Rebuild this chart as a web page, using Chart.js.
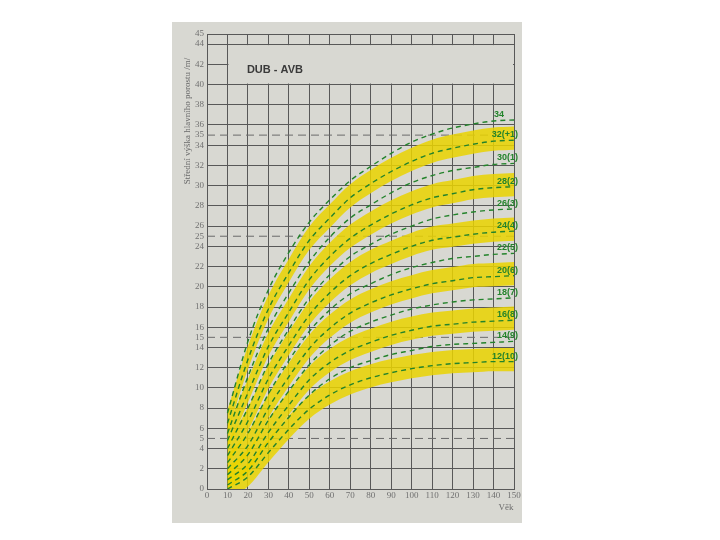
<!DOCTYPE html>
<html>
<head>
<meta charset="utf-8">
<script src="https://cdn.jsdelivr.net/npm/chart.js@4.4.0/dist/chart.umd.min.js"></script>
<style>
html, body { margin: 0; padding: 0; background: #fff; }
#obal { width: 720px; height: 540px; }
</style>
</head>
<body>
<div id="obal"><canvas id="graf"></canvas></div>
<script>
// vek porostu
const veky = [10, 20, 30, 40, 50, 60, 70, 80, 90, 100, 110, 120, 130, 140, 150];

// stredni vyska (m) pro jednotlive krivky
const h34 = [7.5, 14.6, 19.7, 23.4, 26.4, 28.6, 30.5, 31.9, 33.2, 34.3, 35.1, 35.7, 36.1, 36.4, 36.5];
const h32 = [6.5, 12.8, 17.8, 21.4, 24.6, 26.8, 28.8, 30.2, 31.4, 32.4, 33.2, 33.7, 34.1, 34.4, 34.5];
const h30 = [5.5, 11.1, 15.9, 19.4, 22.5, 24.9, 26.8, 28.1, 29.3, 30.3, 31.0, 31.5, 31.8, 32.1, 32.2];
const h28 = [4.8, 9.5, 14.1, 17.5, 20.7, 23.0, 24.8, 26.1, 27.2, 28.1, 28.8, 29.2, 29.6, 29.8, 29.9];
const h26 = [4.0, 8.0, 12.4, 15.8, 18.9, 21.2, 23.0, 24.2, 25.2, 26.0, 26.7, 27.1, 27.4, 27.6, 27.7];
const h24 = [3.3, 6.7, 10.9, 14.2, 17.2, 19.4, 21.1, 22.3, 23.2, 24.0, 24.6, 24.9, 25.2, 25.4, 25.5];
const h22 = [2.6, 5.5, 9.4, 12.7, 15.6, 17.7, 19.3, 20.3, 21.2, 21.9, 22.4, 22.8, 23.0, 23.2, 23.3];
const h20 = [2.0, 4.3, 8.0, 11.1, 13.9, 15.9, 17.4, 18.4, 19.2, 19.8, 20.3, 20.6, 20.9, 21.0, 21.1];
const h18 = [1.4, 3.4, 6.8, 9.7, 12.3, 14.2, 15.6, 16.5, 17.2, 17.8, 18.2, 18.5, 18.7, 18.8, 18.9];
const h16 = [0.9, 2.5, 5.6, 8.3, 10.8, 12.5, 13.7, 14.5, 15.2, 15.7, 16.1, 16.3, 16.5, 16.6, 16.7];
const h14 = [0.4, 1.8, 4.6, 7.1, 9.3, 10.9, 12.0, 12.7, 13.3, 13.7, 14.1, 14.3, 14.4, 14.5, 14.6];
const h12 = [0.0, 1.2, 3.6, 5.9, 7.9, 9.3, 10.3, 11.0, 11.5, 11.9, 12.2, 12.4, 12.5, 12.6, 12.6];

const krivky = [h34, h32, h30, h28, h26, h24, h22, h20, h18, h16, h14, h12];
const popisky = ['34', '32(+1)', '30(1)', '28(2)', '26(3)', '24(4)', '22(5)', '20(6)', '18(7)', '16(8)', '14(9)', '12(10)'];
// krivky se zlutym pasem
const pasy = [h32, h28, h24, h20, h16, h12];

const yTicks = [0, 2, 4, 5, 6, 8, 10, 12, 14, 15, 16, 18, 20, 22, 24, 25, 26, 28, 30, 32, 34, 35, 36, 38, 40, 42, 44, 45];
const carkovane = [5, 15, 25, 35];

const PAPIR = '#d8d8d2';
const MRIZKA = '#585858';
const ZELENA = '#23832b';
const pasNahoru = 1.35;
const pasDolu = 0.95;

function body(h) {
    return veky.map((a, i) => ({x: a, y: h[i]}));
}

let datasets = [];
carkovane.forEach(v => {
    datasets.push({data: [{x: 0, y: v}, {x: 150, y: v}], borderColor: '#6a6a6a', borderWidth: 1,
        borderDash: [8, 5], pointRadius: 0, fill: false, order: 3});
});
pasy.forEach(h => {
    datasets.push({data: veky.map((a, i) => ({x: a, y: h[i] + pasNahoru})), borderColor: 'transparent',
        borderWidth: 0, pointRadius: 0, fill: '+1', backgroundColor: 'rgba(234,212,0,0.85)',
        cubicInterpolationMode: 'monotone', order: 2});
    datasets.push({data: veky.map((a, i) => ({x: a, y: h[i] - pasDolu})), borderColor: 'transparent',
        borderWidth: 0, pointRadius: 0, fill: false, cubicInterpolationMode: 'monotone', order: 2});
});
krivky.forEach(h => {
    datasets.push({data: body(h), borderColor: ZELENA, borderWidth: 1.4, borderDash: [5, 4],
        pointRadius: 0, fill: false, cubicInterpolationMode: 'monotone', order: 1});
});

const papir = {
    id: 'papir',
    beforeDraw(chart) {
        const c = chart.ctx;
        c.save();
        c.fillStyle = PAPIR;
        c.fillRect(172, 22, 350, 501);
        c.restore();
    },
    beforeDatasetsDraw(chart) {
        const c = chart.ctx, x = chart.scales.x, y = chart.scales.y;
        c.save();
        // policko s nazvem
        const l = x.getPixelForValue(10) + 1, r = x.getPixelForValue(150) - 1;
        const t = y.getPixelForValue(44) + 1, b = y.getPixelForValue(40) - 1;
        c.fillStyle = PAPIR;
        c.fillRect(l, t, r - l, b - t);
        c.fillStyle = '#3a3a3a';
        c.font = 'bold 11px "Liberation Sans"';
        c.textBaseline = 'middle';
        c.fillText('DUB - AVB', x.getPixelForValue(19.5), y.getPixelForValue(41.4));
        // popisy os
        c.fillStyle = '#6b6b6b';
        c.font = '9px "Liberation Serif"';
        c.textAlign = 'center';
        c.fillText('Věk', 506, 508);
        c.translate(188, 121);
        c.rotate(-Math.PI / 2);
        c.fillText('Střední výška hlavního porostu /m/', 0, 0);
        c.restore();
    },
    afterDraw(chart) {
        const c = chart.ctx, x = chart.scales.x, y = chart.scales.y;
        c.save();
        c.fillStyle = ZELENA;
        c.font = 'bold 9px "Liberation Sans"';
        c.textAlign = 'right';
        c.textBaseline = 'bottom';
        krivky.forEach((h, i) => {
            let px = x.getPixelForValue(150) + 4;
            if (popisky[i].indexOf('(') < 0) px -= 14;
            c.fillText(popisky[i], px, y.getPixelForValue(h[h.length - 1]) - 1);
        });
        c.restore();
    }
};

Chart.defaults.font.family = '"Liberation Serif"';
Chart.defaults.font.size = 9;
Chart.defaults.color = '#707070';

const ctx = document.getElementById('graf').getContext('2d');
const graf = new Chart(ctx, {
    type: 'line',
    data: {datasets: datasets},
    options: {
        responsive: true,
        maintainAspectRatio: false,
        animation: false,
        layout: {padding: {left: 172, right: 206, top: 34, bottom: 17}},
        plugins: {legend: {display: false}, tooltip: {enabled: false}},
        scales: {
            x: {
                type: 'linear', min: 0, max: 150,
                afterFit: s => { s.height = 34; },
                grid: {color: MRIZKA, lineWidth: 1, drawTicks: false},
                border: {color: MRIZKA},
                ticks: {stepSize: 10, padding: 1, maxRotation: 0, autoSkip: false}
            },
            y: {
                type: 'linear', min: 0, max: 45,
                afterFit: s => { s.width = 35; },
                afterBuildTicks: s => { s.ticks = yTicks.map(v => ({value: v})); },
                grid: {
                    color: c => (c.tick && carkovane.includes(c.tick.value)) ? 'transparent' : MRIZKA,
                    lineWidth: 1, drawTicks: false
                },
                border: {color: MRIZKA},
                ticks: {padding: 3, autoSkip: false}
            }
        }
    },
    plugins: [papir]
});
</script>
</body>
</html>
